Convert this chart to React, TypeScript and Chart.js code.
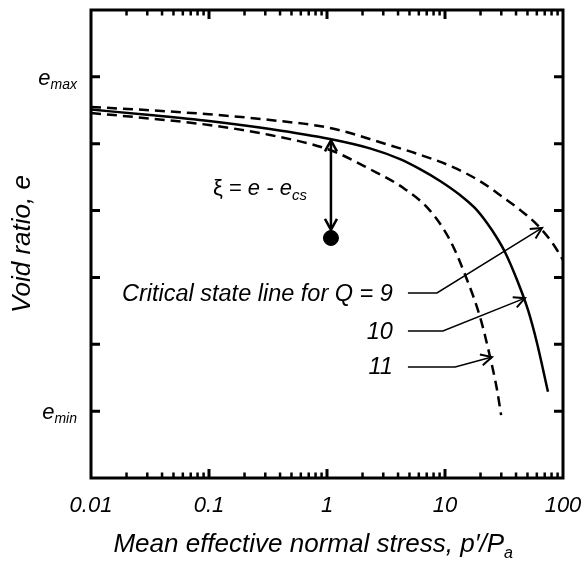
import { useEffect, useRef } from 'react';
import { Chart, registerables } from 'chart.js';

Chart.register(...registerables);

// ---- data ----
const stressQ9 = [0.01, 0.0316, 0.1, 0.329, 1.06, 3.22, 6.14, 11.7, 19.8, 31.0, 43.3, 60.2, 82.2, 100];
const voidQ9 = [5.55, 5.5, 5.44, 5.355, 5.235, 4.99, 4.835, 4.65, 4.44, 4.2, 4.01, 3.79, 3.505, 3.26];
const stressQ10 = [0.01, 0.0316, 0.1, 0.329, 1.06, 2.31, 4.16, 6.14, 9.08, 13.4, 17.9, 22.7, 27.6, 32.2, 40.8, 50.5, 60.2, 74.6];
const voidQ10 = [5.51, 5.43, 5.34, 5.22, 5.07, 4.93, 4.77, 4.62, 4.443, 4.233, 4.039, 3.814, 3.59, 3.381, 2.962, 2.513, 2.02, 1.29];
const stressQ11 = [0.01, 0.0316, 0.1, 0.329, 1.06, 2.31, 4.41, 7.46, 11.0, 14.8, 19.8, 24.1, 27.6, 29.9];
const voidQ11 = [5.46, 5.377, 5.28, 5.13, 4.906, 4.62, 4.34, 4.0, 3.56, 3.04, 2.41, 1.81, 1.32, 0.94];
const stateStress = [1.08];
const stateVoid = [3.59];

const xTickValues = [0.01, 0.1, 1, 10, 100];
const xTickLabels = ['0.01', '0.1', '1', '10', '100'];
const yTickValues = [1, 2, 3, 4, 5, 6];
const yLabelValues = [6, 1];
const yLabelSubs = ['max', 'min'];

// ξ arrow: from CSL down to the state point
const xiArrowStress = 1.08;
const xiArrowTop = 5.05;
const xiArrowBottom = 3.71;

// Leader annotations: label, label anchor (stress, void), bend stress, tip (stress, void)
const leaderLabels = ['Critical state line for Q = 9', '10', '11'];
const leaderLabelStress = [3.62, 3.62, 3.62];
const leaderVoid = [2.767, 2.199, 1.661];
const leaderStartStress = [4.85, 4.85, 4.85];
const leaderBendStress = [8.55, 9.6, 12.2];
const leaderTipStress = [66.4, 47.6, 25.0];
const leaderTipVoid = [3.74, 2.69, 1.81];

const FONT = '"Liberation Sans", Arial, sans-serif';

function arrowHead(ctx: CanvasRenderingContext2D, fx: number, fy: number, tx: number, ty: number, len: number, half: number) {
  const ang = Math.atan2(ty - fy, tx - fx);
  const bx = tx - len * Math.cos(ang);
  const by = ty - len * Math.sin(ang);
  const nx = -Math.sin(ang) * half;
  const ny = Math.cos(ang) * half;
  ctx.beginPath();
  ctx.moveTo(bx + nx, by + ny);
  ctx.lineTo(tx, ty);
  ctx.lineTo(bx - nx, by - ny);
  ctx.stroke();
}

const decorPlugin = {
  id: 'decor',
  afterDatasetsDraw(chart: any) {
    const ctx: CanvasRenderingContext2D = chart.ctx;
    const xs = chart.scales.x;
    const ys = chart.scales.y;
    const a = chart.chartArea;
    ctx.save();
    ctx.strokeStyle = '#000';
    ctx.fillStyle = '#000';

    // frame
    ctx.lineWidth = 3;
    ctx.strokeRect(a.left, a.top, a.right - a.left, a.bottom - a.top);

    // y ticks (left & right, inward)
    ctx.lineWidth = 3;
    yTickValues.forEach((v) => {
      const y = ys.getPixelForValue(v);
      ctx.beginPath();
      ctx.moveTo(a.left, y);
      ctx.lineTo(a.left + 9, y);
      ctx.moveTo(a.right, y);
      ctx.lineTo(a.right - 9, y);
      ctx.stroke();
    });

    // x ticks (bottom & top, inward), major + minor
    for (let d = -2; d < 2; d++) {
      for (let m = 1; m <= 9; m++) {
        const v = m * Math.pow(10, d);
        if (m === 1 && d === -2) continue;
        const x = xs.getPixelForValue(v);
        const len = m === 1 ? 9 : 5.5;
        ctx.lineWidth = m === 1 ? 3 : 2.5;
        ctx.beginPath();
        ctx.moveTo(x, a.bottom);
        ctx.lineTo(x, a.bottom - len);
        ctx.moveTo(x, a.top);
        ctx.lineTo(x, a.top + len);
        ctx.stroke();
      }
    }

    // x tick labels
    ctx.font = `italic 22px ${FONT}`;
    ctx.textAlign = 'center';
    ctx.textBaseline = 'alphabetic';
    xTickValues.forEach((v, i) => {
      ctx.fillText(xTickLabels[i], xs.getPixelForValue(v), a.bottom + 34);
    });

    // y tick labels e_max, e_min
    yLabelValues.forEach((v, i) => {
      const y = ys.getPixelForValue(v) + 8;
      ctx.font = `italic 14px ${FONT}`;
      const sw = ctx.measureText(yLabelSubs[i]).width;
      ctx.textAlign = 'left';
      const right = a.left - 14;
      ctx.fillText(yLabelSubs[i], right - sw, y + 4);
      ctx.font = `italic 22px ${FONT}`;
      const ew = ctx.measureText('e').width;
      ctx.fillText('e', right - sw - ew, y);
    });

    // axis titles
    ctx.font = `italic 26px ${FONT}`;
    ctx.textAlign = 'left';
    const xTitle = 'Mean effective normal stress, p\u2032/P';
    const xtw = ctx.measureText(xTitle).width;
    ctx.font = `italic 16px ${FONT}`;
    const atw = ctx.measureText('a').width;
    const xStart = 513 - xtw - atw;
    ctx.font = `italic 26px ${FONT}`;
    ctx.fillText(xTitle, xStart, a.bottom + 74);
    ctx.font = `italic 16px ${FONT}`;
    ctx.fillText('a', xStart + xtw, a.bottom + 80);

    ctx.save();
    ctx.translate(30, (a.top + a.bottom) / 2);
    ctx.rotate(-Math.PI / 2);
    ctx.font = `italic 26px ${FONT}`;
    ctx.textAlign = 'center';
    ctx.fillText('Void ratio, e', 0, 0);
    ctx.restore();

    // ξ arrow
    const ax = xs.getPixelForValue(xiArrowStress);
    const at = ys.getPixelForValue(xiArrowTop);
    const ab = ys.getPixelForValue(xiArrowBottom);
    ctx.lineWidth = 2.5;
    ctx.beginPath();
    ctx.moveTo(ax, at + 1);
    ctx.lineTo(ax, ab - 1);
    ctx.stroke();
    arrowHead(ctx, ax, ab, ax, at, 11, 6);
    arrowHead(ctx, ax, at, ax, ab, 11, 6);

    // ξ = e - e_cs
    ctx.textAlign = 'left';
    let tx = ax - 118;
    const ty = ys.getPixelForValue(xiArrowTop) + 55;
    ctx.font = `22px ${FONT}`;
    ctx.fillText('\u03BE = ', tx, ty);
    tx += ctx.measureText('\u03BE = ').width;
    ctx.font = `italic 22px ${FONT}`;
    ctx.fillText('e - e', tx, ty);
    tx += ctx.measureText('e - e').width;
    ctx.font = `italic 15px ${FONT}`;
    ctx.fillText('cs', tx, ty + 5);

    // leaders
    ctx.lineWidth = 1.5;
    leaderLabels.forEach((lab, i) => {
      const y = ys.getPixelForValue(leaderVoid[i]);
      ctx.font = `italic 23.5px ${FONT}`;
      ctx.textAlign = 'right';
      ctx.textBaseline = 'middle';
      ctx.fillText(lab, xs.getPixelForValue(leaderLabelStress[i]), y + 1);
      const sx = xs.getPixelForValue(leaderStartStress[i]);
      const bx = xs.getPixelForValue(leaderBendStress[i]);
      const tipx = xs.getPixelForValue(leaderTipStress[i]);
      const tipy = ys.getPixelForValue(leaderTipVoid[i]);
      ctx.beginPath();
      ctx.moveTo(sx, y);
      ctx.lineTo(bx, y);
      ctx.lineTo(tipx, tipy);
      ctx.stroke();
      ctx.lineWidth = 2;
      arrowHead(ctx, bx, y, tipx, tipy, 11, 5.5);
      ctx.lineWidth = 1.5;
    });
    ctx.restore();
  },
};

export default function App() {
  const ref = useRef<HTMLCanvasElement | null>(null);
  useEffect(() => {
    document.body.style.margin = '0';
    const canvas = ref.current;
    if (!canvas) return;
    const toPts = (xs: number[], ys: number[]) => xs.map((x, i) => ({ x, y: ys[i] }));
    const lineStyle = {
      borderColor: '#000',
      borderWidth: 2.5,
      pointRadius: 0,
      cubicInterpolationMode: 'monotone',
      fill: false,
    };
    const chart = new Chart(canvas, {
      type: 'line',
      data: {
        datasets: [
          { label: 'Q = 9', data: toPts(stressQ9, voidQ9), borderDash: [10, 6], ...lineStyle },
          { label: 'Q = 10', data: toPts(stressQ10, voidQ10), ...lineStyle },
          { label: 'Q = 11', data: toPts(stressQ11, voidQ11), borderDash: [10, 6], ...lineStyle },
          {
            label: 'State',
            type: 'scatter',
            data: toPts(stateStress, stateVoid),
            backgroundColor: '#000',
            borderColor: '#000',
            pointRadius: 7.5,
            showLine: false,
          } as any,
        ],
      },
      options: {
        responsive: false,
        animation: false,
        devicePixelRatio: 1,
        layout: { padding: { left: 91, right: 21, top: 10, bottom: 86 } },
        plugins: { legend: { display: false }, tooltip: { enabled: false } },
        scales: {
          x: { type: 'logarithmic', min: 0.01, max: 100, display: false },
          y: { type: 'linear', min: 0, max: 7, display: false },
        },
      },
      plugins: [decorPlugin],
    } as any);
    return () => chart.destroy();
  }, []);
  return (
    <div style={{ width: 584, height: 564, background: '#fff' }}>
      <canvas ref={ref} width={584} height={564} style={{ display: 'block' }} />
    </div>
  );
}
